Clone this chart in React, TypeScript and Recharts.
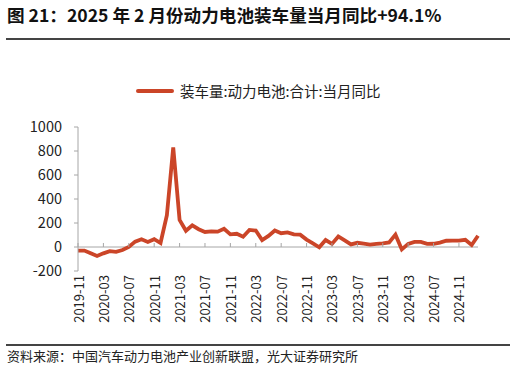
import React from 'react';
import { LineChart, Line, XAxis, YAxis, ReferenceLine } from 'recharts';

const months = [
  '2019-11', '2019-12',
  '2020-01', '2020-02', '2020-03', '2020-04', '2020-05', '2020-06',
  '2020-07', '2020-08', '2020-09', '2020-10', '2020-11', '2020-12',
  '2021-01', '2021-02', '2021-03', '2021-04', '2021-05', '2021-06',
  '2021-07', '2021-08', '2021-09', '2021-10', '2021-11', '2021-12',
  '2022-01', '2022-02', '2022-03', '2022-04', '2022-05', '2022-06',
  '2022-07', '2022-08', '2022-09', '2022-10', '2022-11', '2022-12',
  '2023-01', '2023-02', '2023-03', '2023-04', '2023-05', '2023-06',
  '2023-07', '2023-08', '2023-09', '2023-10', '2023-11', '2023-12',
  '2024-01', '2024-02', '2024-03', '2024-04', '2024-05', '2024-06',
  '2024-07', '2024-08', '2024-09', '2024-10', '2024-11', '2024-12',
  '2025-01', '2025-02',
];

// 装车量:动力电池:合计:当月同比 (%)
const yoy = [
  -30, -30,
  -53, -75, -53, -35, -40, -25,
  0, 45, 65, 42, 65, 33,
  265, 830, 225, 135, 180, 148,
  125, 130, 128, 152, 105, 110,
  86, 142, 137, 58, 92, 137,
  115, 122, 105, 103, 62, 30,
  -3, 58, 26, 88, 55, 22,
  35, 28, 20, 26, 30, 38,
  103, -20, 26, 42, 43, 26,
  27, 36, 52, 53, 53, 60,
  17, 94.1,
];

const xTicks = [
  '2019-11', '2020-03', '2020-07', '2020-11', '2021-03', '2021-07', '2021-11',
  '2022-03', '2022-07', '2022-11', '2023-03', '2023-07', '2023-11',
  '2024-03', '2024-07', '2024-11',
];
const yTicks = [-200, 0, 200, 400, 600, 800, 1000];

const data = months.map((m, i) => ({ month: m, value: yoy[i] }));

const FONT = '"Noto Sans CJK SC", "Noto Sans", sans-serif';
const RED = '#CB4528';
const GREY = '#A6A6A6';

// plot area: x 78..478, y 127..271 ; zero line sits 24px above bottom
const ZERO_OFFSET = 24;

const XTick = ({ x, y, payload }: any) => (
  <g>
    <line x1={x} x2={x} y1={y - 4 - ZERO_OFFSET} y2={y - 8 - ZERO_OFFSET} stroke={GREY} />
    <text
      x={x}
      y={y}
      transform={`rotate(-90, ${x}, ${y})`}
      textAnchor="end"
      dominantBaseline="central"
      fontSize={13}
      fill="#222"
      fontFamily={FONT}
    >
      {payload.value}
    </text>
  </g>
);

export default function App() {
  return (
    <div style={{ position: 'absolute', left: 0, top: 0, width: 516, height: 366, background: '#fff', fontFamily: FONT }}>
      <div style={{ position: 'absolute', left: 7, top: 2, fontSize: 17.6, fontWeight: 700, color: '#111', whiteSpace: 'nowrap' }}>
        图 21：2025 年 2 月份动力电池装车量当月同比+94.1%
      </div>
      <div style={{ position: 'absolute', left: 6, top: 38, width: 504, height: 1.5, background: '#444' }} />

      <div style={{ position: 'absolute', left: 136, top: 80, display: 'flex', alignItems: 'center', whiteSpace: 'nowrap' }}>
        <div style={{ width: 38, height: 4, background: RED, borderRadius: 2, marginRight: 6 }} />
        <span style={{ fontSize: 14.5, color: '#222' }}>装车量:动力电池:合计:当月同比</span>
      </div>

      <div style={{ position: 'absolute', left: 0, top: 0 }}>
        <LineChart width={516} height={366} data={data} margin={{ top: 127, right: 38, bottom: 45, left: 0 }}>
          <XAxis
            dataKey="month"
            ticks={xTicks}
            interval={0}
            axisLine={false}
            tickLine={false}
            tickSize={0}
            tickMargin={4}
            height={50}
            tick={<XTick />}
          />
          <YAxis
            domain={[-200, 1000]}
            ticks={yTicks}
            width={78}
            axisLine={{ stroke: GREY }}
            tickLine={{ stroke: GREY }}
            tickSize={4}
            tickMargin={12}
            tick={{ fontSize: 14.5, fill: '#222', fontFamily: FONT }}
          />
          <ReferenceLine y={0} stroke={GREY} strokeWidth={1} />
          <Line
            type="linear"
            dataKey="value"
            stroke={RED}
            strokeWidth={3.8}
            dot={false}
            isAnimationActive={false}
          />
        </LineChart>
      </div>

      <div style={{ position: 'absolute', left: 6, top: 344, width: 504, height: 1.5, background: '#444' }} />
      <div style={{ position: 'absolute', left: 7, top: 346, fontSize: 13, color: '#222', whiteSpace: 'nowrap' }}>
        资料来源：中国汽车动力电池产业创新联盟，光大证券研究所
      </div>
    </div>
  );
}
